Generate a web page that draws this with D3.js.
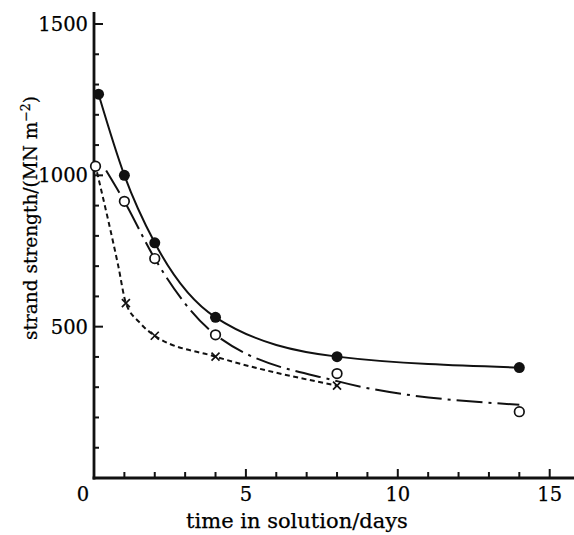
<!DOCTYPE html>
<html><head><meta charset="utf-8">
<script src="https://cdn.jsdelivr.net/npm/d3@7"></script>
<style>
html,body{margin:0;padding:0;background:#fff;}
svg{display:block;}
text{font-family:"DejaVu Serif",serif;fill:#000;stroke:#000;stroke-width:0.25px;}
</style></head>
<body>
<svg id="c" width="574" height="535"></svg>
<script>
// ---- data ----
const xTicks = [1,2,3,4,5,6,7,8,9,10,11,12,13,14,15];
const xTickLabels = [0,5,10,15];
const yTicks = [100,200,300,400,500,600,700,800,900,1000,1100,1200,1300,1400,1500];
const yTickLabels = [500,1000,1500];

// measured points: [days, MN m^-2]
const filledPts = [[0.15,1268],[1,1000],[2,777],[4,531],[8,401],[14,365]];
const openPts   = [[0.05,1030],[1,914],[2,725],[4,473],[8,345],[14,219]];
const crossPts  = [[1.05,578],[2,470],[4,401],[8,305]];

// fitted curves drawn in the figure
const solidCurve   = [[0.15,1268],[1,1000],[2,777],[4,531],[8,401],[14,365]];
const dashDotCurve = [[0.4,1016],[1,914],[2,725],[4,473],[8,320],[14,242]];
const dashedCurve  = [[0.1,1010],[0.8,700],[1.05,578],[1.5,514],[2,470],[4,401],[8,305]];

const xLabel = "time in solution/days";
const yLabelMain = "strand strength/(MN m";
const yLabelSup = "−2";

// ---- drawing ----
const svg = d3.select("#c");
const x = d3.scaleLinear().domain([0,15.8]).range([94,574]);
const y = d3.scaleLinear().domain([0,1540]).range([478,11.9]);

const ink = "#111";

// curves
const line = d3.line().x(d=>x(d[0])).y(d=>y(d[1])).curve(d3.curveMonotoneX);
svg.append("path").attr("d",line(solidCurve)).attr("fill","none").attr("stroke",ink).attr("stroke-width",2);
svg.append("path").attr("d",line(dashDotCurve)).attr("fill","none").attr("stroke",ink).attr("stroke-width",2)
  .attr("stroke-dasharray","26,6,3,6");
svg.append("path").attr("d",line(dashedCurve)).attr("fill","none").attr("stroke",ink).attr("stroke-width",2)
  .attr("stroke-dasharray","5,3.5");

// axes
const gy = svg.append("g").attr("transform",`translate(${x(0)},0)`);
gy.append("line").attr("x1",0).attr("x2",0).attr("y1",y(1540)).attr("y2",y(0)+1.5)
  .attr("stroke",ink).attr("stroke-width",2.8);
gy.selectAll("line.t").data(yTicks).join("line").attr("class","t")
  .attr("x1",0).attr("x2",d=>d%500===0?9:5).attr("y1",d=>y(d)).attr("y2",d=>y(d))
  .attr("stroke",ink).attr("stroke-width",2);
svg.selectAll("text.yl").data(yTickLabels).join("text").attr("class","yl")
  .attr("x",88).attr("y",d=>y(d)+7).attr("text-anchor","end").attr("font-size",19.5)
  .text(d=>d);

const gx = svg.append("g").attr("transform",`translate(0,${y(0)})`);
gx.append("line").attr("x1",x(0)-1.4).attr("x2",574).attr("y1",0).attr("y2",0)
  .attr("stroke",ink).attr("stroke-width",2.8);
gx.selectAll("line.t").data(xTicks).join("line").attr("class","t")
  .attr("x1",d=>x(d)).attr("x2",d=>x(d)).attr("y1",0).attr("y2",d=>d%5===0?-9:-6)
  .attr("stroke",ink).attr("stroke-width",2);
svg.selectAll("text.xl").data(xTickLabels).join("text").attr("class","xl")
  .attr("x",d=>d===0?x(d)-11:x(d)).attr("y",501).attr("text-anchor","middle").attr("font-size",19.5)
  .text(d=>d);

// axis titles
svg.append("text").attr("x",297).attr("y",528).attr("text-anchor","middle").attr("font-size",21).text(xLabel);
const yt = svg.append("text").attr("transform","translate(37,218) rotate(-90)")
  .attr("text-anchor","middle").attr("font-size",18.5);
yt.append("tspan").text(yLabelMain);
yt.append("tspan").attr("font-size",12.5).attr("dy",-7).text(yLabelSup);
yt.append("tspan").attr("dy",7).text(")");

// markers
svg.selectAll("circle.f").data(filledPts).join("circle").attr("class","f")
  .attr("cx",d=>x(d[0])).attr("cy",d=>y(d[1])).attr("r",5.5).attr("fill",ink);
svg.selectAll("circle.o").data(openPts).join("circle").attr("class","o")
  .attr("cx",d=>x(d[0])).attr("cy",d=>y(d[1])).attr("r",4.8).attr("fill","#fff")
  .attr("stroke",ink).attr("stroke-width",1.7);
const cs = 4;
svg.selectAll("path.x").data(crossPts).join("path").attr("class","x")
  .attr("d",d=>{const cx=x(d[0]),cy=y(d[1]);return `M${cx-cs},${cy-cs}L${cx+cs},${cy+cs}M${cx-cs},${cy+cs}L${cx+cs},${cy-cs}`;})
  .attr("stroke",ink).attr("stroke-width",1.7).attr("fill","none");
</script>
</body></html>
